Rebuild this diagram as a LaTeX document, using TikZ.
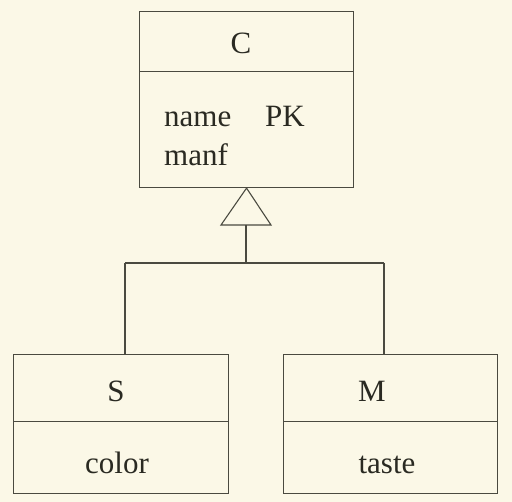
\documentclass[tikz,border=0pt]{standalone}
\usepackage{fontspec}
\setmainfont{Liberation Serif}
\begin{document}
\begin{tikzpicture}[x=1pt,y=-1pt,
  ln/.style={draw=linec, line width=1.1pt},
  cell/.style={ln, rectangle, inner sep=0pt, anchor=north west},
  lbl/.style={text=textc, font=\fontsize{31}{33}\selectfont, inner sep=0pt},
  attr/.style={lbl, anchor=base west}]
\definecolor{bgc}{HTML}{FBF8E7}
\definecolor{linec}{HTML}{4A4A40}
\definecolor{textc}{HTML}{2A2A22}
\fill[bgc] (0,0) rectangle (512,502);
\useasboundingbox (0,0) rectangle (512,502);
% class C
\node[cell, minimum width=214pt, minimum height=60pt] (Ct) at (139,11) {};
\node[cell, minimum width=214pt, minimum height=116pt] (Ca) at (139,71) {};
\node[lbl] (Cn) at (241,43) {C};
\node[attr] (a1) at (164,127) {name};
\node[attr] (a2) at (265,127) {PK};
\node[attr] (a3) at (164,166) {manf};
% class S
\node[cell, minimum width=215pt, minimum height=67pt] (St) at (13,354) {};
\node[cell, minimum width=215pt, minimum height=72pt] (Sa) at (13,421) {};
\node[lbl] (Sn) at (116,391) {S};
\node[lbl, anchor=base] (Sx) at (117,474) {color};
% class M
\node[cell, minimum width=214pt, minimum height=67pt] (Mt) at (283,354) {};
\node[cell, minimum width=214pt, minimum height=72pt] (Ma) at (283,421) {};
\node[lbl] (Mn) at (372,391) {M};
\node[lbl, anchor=base] (Mx) at (387,474) {taste};
% generalization
\coordinate (apex) at (Ca.south);
\coordinate (tb) at (246,225);
\coordinate (tl) at (221,225);
\coordinate (tr) at (271,225);
\coordinate (j) at (246,263);
\coordinate (js) at (125,263);
\coordinate (jm) at (384,263);
\draw[ln, line join=miter] (apex) -- (tl) -- (tr) -- cycle;
\draw[ln] (tb) -- (j);
\draw[ln] (js) -- (jm);
\draw[ln] (js) -- (js |- St.north);
\draw[ln] (jm) -- (jm |- Mt.north);
\end{tikzpicture}
\end{document}
